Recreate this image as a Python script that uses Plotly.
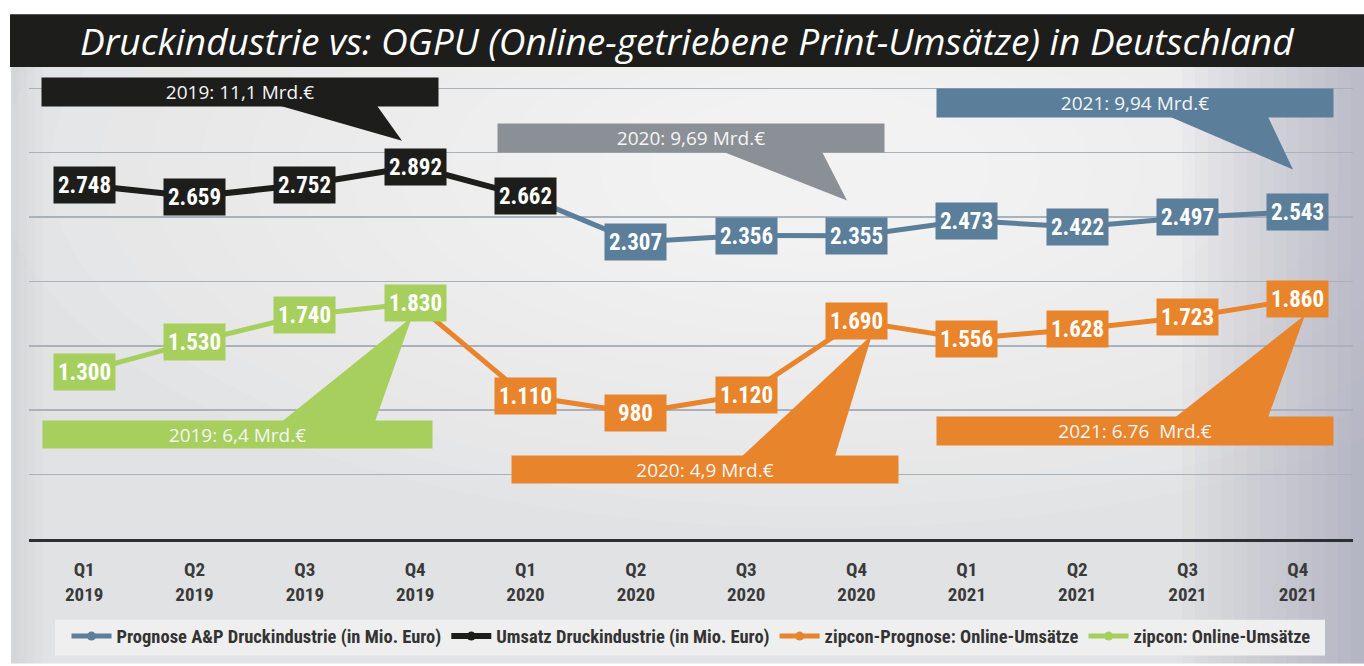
import plotly.graph_objects as go

# ---------------- data ----------------
quarters = ["Q1<br>2019", "Q2<br>2019", "Q3<br>2019", "Q4<br>2019",
            "Q1<br>2020", "Q2<br>2020", "Q3<br>2020", "Q4<br>2020",
            "Q1<br>2021", "Q2<br>2021", "Q3<br>2021", "Q4<br>2021"]

umsatz_start = 0
umsatz = [2748, 2659, 2752, 2892, 2662]                      # Umsatz Druckindustrie
prognose_start = 4
prognose = [2662, 2307, 2356, 2355, 2473, 2422, 2497, 2543]  # Prognose A&P
online_start = 0
online = [1300, 1530, 1740, 1830]                            # zipcon: Online-Umsätze
online_prog_start = 3
online_prog = [1830, 1110, 980, 1120, 1690, 1556, 1628, 1723, 1860]  # zipcon-Prognose

callout_texts = ["2019: 11,1 Mrd.€", "2020: 9,69 Mrd.€", "2021: 9,94 Mrd.€",
                 "2019: 6,4 Mrd.€", "2020: 4,9 Mrd.€", "2021: 6.76  Mrd.€"]

title_text = "Druckindustrie vs: OGPU (Online-getriebene Print-Umsätze) in Deutschland"

# ---------------- styling / layout ----------------
W, H = 1364, 666
L, R, T, B = 29, 11, 67, 125
PW, PH = W - L - R, H - T - B
XR = (-0.5, 11.5)
YR = (0, 3665)

C_BLACK = "#1d1d1b"
C_BLUE = "#5b7e9b"
C_GRAY = "#8b9096"
C_GREEN = "#a6cf5e"
C_ORANGE = "#e8842b"

NUM_FONT = "Roboto Condensed, Liberation Sans Narrow, Roboto, sans-serif"
TXT_FONT = "Open Sans, Noto Sans, sans-serif"


def px_x(px):
    return XR[0] + (px - L) / PW * (XR[1] - XR[0])


def px_y(py):
    return YR[0] + (H - B - py) / PH * (YR[1] - YR[0])


def pp_x(px):
    return (px - L) / PW


def pp_y(py):
    return (H - B - py) / PH


def de(v):
    return f"{v:,}".replace(",", ".")


fig = go.Figure()

series = [
    ("Prognose A&P Druckindustrie (in Mio. Euro)", prognose_start, prognose, C_BLUE, 5),
    ("Umsatz Druckindustrie (in Mio. Euro)", umsatz_start, umsatz, C_BLACK, 6),
    ("zipcon-Prognose: Online-Umsätze", online_prog_start, online_prog, C_ORANGE, 5),
    ("zipcon: Online-Umsätze", online_start, online, C_GREEN, 5),
]

for name, start, vals, col, lw in series:
    xs = list(range(start, start + len(vals)))
    fig.add_trace(go.Scatter(
        x=xs, y=vals, name=name, mode="lines+markers",
        line=dict(color=col, width=lw),
        marker=dict(color=col, size=9),
        hoverinfo="skip",
    ))

annotations = []
# value boxes (skip shared first points of the forecast series)
label_sets = [
    (prognose_start, prognose, C_BLUE, 1),
    (umsatz_start, umsatz, C_BLACK, 0),
    (online_prog_start, online_prog, C_ORANGE, 1),
    (online_start, online, C_GREEN, 0),
]
for start, vals, col, skip in label_sets:
    for i, v in enumerate(vals):
        if i < skip:
            continue
        annotations.append(dict(
            x=start + i, y=v, xref="x", yref="y", text=de(v), showarrow=False,
            xanchor="center", yanchor="middle", bgcolor=col, width=61, height=36,
            borderpad=0, font=dict(family=NUM_FONT, size=23, color="white", weight="bold"),
        ))

shapes = []
# background
shapes.append(dict(type="rect", xref="paper", yref="paper", layer="below",
                   x0=pp_x(11), x1=pp_x(W), y0=pp_y(T), y1=pp_y(H),
                   fillcolor="#e1e2e3", line=dict(width=0)))
n_glow = 14
for k in range(n_glow):
    f = 1 - k / n_glow
    rx, ry = 120 + 700 * f, 60 + 300 * f
    cx, cy = 820, 170
    shapes.append(dict(type="circle", xref="paper", yref="paper", layer="below",
                       x0=pp_x(cx - rx), x1=pp_x(cx + rx), y0=pp_y(cy + ry), y1=pp_y(cy - ry),
                       fillcolor="white", opacity=0.075, line=dict(width=0)))
for i in range(14):
    shapes.append(dict(type="rect", xref="paper", yref="paper", layer="below",
                       x0=pp_x(W - (i + 1) * 13), x1=pp_x(W), y0=pp_y(T), y1=pp_y(H),
                       fillcolor="#707880", opacity=0.026, line=dict(width=0)))
for i in range(4):
    shapes.append(dict(type="rect", xref="paper", yref="paper", layer="below",
                       x0=pp_x(11), x1=pp_x(11 + (i + 1) * 8), y0=pp_y(T), y1=pp_y(H),
                       fillcolor="#707880", opacity=0.025, line=dict(width=0)))
# title bar
shapes.append(dict(type="rect", xref="paper", yref="paper", layer="below",
                   x0=pp_x(10), x1=pp_x(W), y0=pp_y(67), y1=pp_y(14),
                   fillcolor=C_BLACK, line=dict(width=0)))
# legend box
shapes.append(dict(type="rect", xref="paper", yref="paper", layer="below",
                   x0=pp_x(55), x1=pp_x(1325), y0=pp_y(658), y1=pp_y(622),
                   fillcolor="#efefef", line=dict(width=0)))

# callouts: text, colour, box (x0, x1, y0, y1 px), tail (base left, base right, tip x, tip y px)
callouts = [
    (callout_texts[0], C_BLACK, (42, 438, 78, 106), (280, 377, 402, 141)),
    (callout_texts[1], C_GRAY, (498, 884, 124, 152), (723, 822, 847, 201)),
    (callout_texts[2], C_BLUE, (937, 1333, 89, 117), (1170, 1268, 1293, 170)),
    (callout_texts[3], C_GREEN, (43, 432, 423, 450), (282, 375, 412, 318)),
    (callout_texts[4], C_ORANGE, (512, 898, 458, 485), (742, 835, 872, 336)),
    (callout_texts[5], C_ORANGE, (937, 1333, 419, 447), (1175, 1268, 1305, 316)),
]
for text, col, (bx0, bx1, by0, by1), (tl, tr, tx, ty) in callouts:
    base_y = by1 if ty > by1 else by0
    shapes.append(dict(type="path", xref="x", yref="y", layer="above",
                       path=f"M {px_x(tl)},{px_y(base_y)} L {px_x(tr)},{px_y(base_y)} "
                            f"L {px_x(tx)},{px_y(ty)} Z",
                       fillcolor=col, line=dict(width=0)))
    annotations.insert(0, dict(
        x=px_x((bx0 + bx1) / 2), y=px_y((by0 + by1) / 2), xref="x", yref="y",
        text=text, showarrow=False, xanchor="center", yanchor="middle",
        bgcolor=col, width=bx1 - bx0, height=by1 - by0, borderpad=0,
        font=dict(family=TXT_FONT, size=19, color="#f5f5f5"),
    ))

# title
annotations.append(dict(
    x=pp_x((10 + W) / 2), y=pp_y(40), xref="paper", yref="paper", text=title_text,
    showarrow=False, xanchor="center", yanchor="middle",
    font=dict(family=TXT_FONT, size=37, color="white", style="italic"),
))

fig.update_layout(
    width=W, height=H,
    margin=dict(l=L, r=R, t=T, b=B, pad=0),
    paper_bgcolor="white",
    plot_bgcolor="rgba(0,0,0,0)",
    showlegend=True,
    legend=dict(orientation="h", x=0.5, xanchor="center", y=pp_y(639), yanchor="middle",
                bgcolor="rgba(0,0,0,0)", font=dict(family=NUM_FONT, size=18.5, color="#333333",
                                                   weight="bold"),
                itemwidth=40, tracegroupgap=0),
    xaxis=dict(range=list(XR), tickmode="array", tickvals=list(range(len(quarters))),
               ticktext=quarters, showgrid=False, zeroline=False,
               showline=True, linecolor="#2b3035", linewidth=3,
               ticks="", ticklabelstandoff=11,
               tickfont=dict(family=NUM_FONT, size=19, color="#3a3a3a", weight="bold"),
               fixedrange=True),
    yaxis=dict(range=list(YR), dtick=500, tick0=0, showgrid=True, gridcolor="#a9b1ba",
               gridwidth=1.5, zeroline=False, showticklabels=False, ticks="",
               fixedrange=True),
    shapes=shapes,
    annotations=annotations,
    hovermode=False,
)

fig.write_html("out.html",
               config={"displayModeBar": False, "staticPlot": True},
               post_script="document.body.style.margin='0px';"
                           "document.body.style.overflow='hidden';")
